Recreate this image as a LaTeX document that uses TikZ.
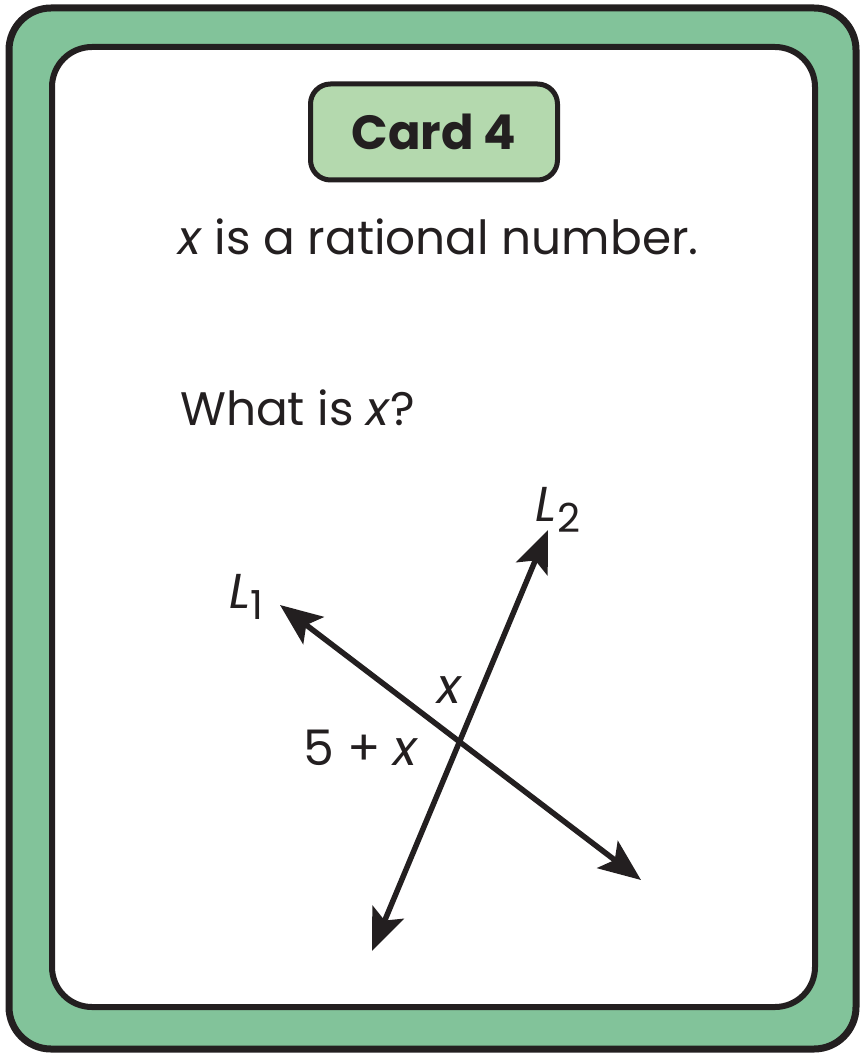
\documentclass[tikz,border=0pt]{standalone}
\usepackage{fontspec}
\setmainfont{Poppins}
\usetikzlibrary{arrows.meta}
\definecolor{cardgreen}{HTML}{82C39A}
\definecolor{tabgreen}{HTML}{B4D9AE}
\definecolor{ink}{HTML}{231F20}
\newcommand{\linename}[1]{\textit{L}\raisebox{-11pt}{\fontsize{40}{42}\selectfont #1}}
\tikzset{
  rayline/.style={ink, line width=5.5pt, {Stealth[length=42pt,width=34pt,inset=9pt]}-{Stealth[length=42pt,width=34pt,inset=9pt]}},
  cardtext/.style={ink, anchor=base west, inner sep=0pt, font=\fontsize{47}{52}\selectfont},
  linelabel/.style={ink, inner sep=0pt, font=\fontsize{49}{54}\selectfont}
}
\begin{document}
\begin{tikzpicture}[x=1pt, y=-1pt]
  \useasboundingbox (0,0) rectangle (864,1056);
  % Card frame
  \draw[ink, line width=7pt, fill=cardgreen, rounded corners=42pt] (9,8) rectangle (856,1049);
  \draw[ink, line width=6pt, fill=white, rounded corners=40pt] (52,47) rectangle (815,1007);

  % Title tab
  \node[draw=ink, line width=5pt, fill=tabgreen, rounded corners=20pt,
        minimum width=247pt, minimum height=96pt, inner sep=0pt,
        font=\fontsize{48}{52}\selectfont\bfseries, text=ink] (tab) at (434,132) {Card 4};

  % Statements
  \node[cardtext] (given) at (178,255) {\textit{x} is a rational number.};
  \node[cardtext] (ask) at (180,425) {What is \textit{x}?};

  % Lines
  \coordinate (L1a) at (280,605);
  \coordinate (L1b) at (641,880);
  \coordinate (L2a) at (548,530);
  \coordinate (L2b) at (372,951);
  \draw[rayline] (L1a) -- (L1b);
  \draw[rayline] (L2a) -- (L2b);

  % Labels
  \node[linelabel] (nameL1) at (246,597) {\linename{1}};
  \node[linelabel] (nameL2) at (558,510) {\linename{2}};
  \node[linelabel] (angx) at (450,690) {\textit{x}};
  \node[linelabel] (angfive) at (361,748) {5 + \textit{x}};
\end{tikzpicture}
\end{document}
